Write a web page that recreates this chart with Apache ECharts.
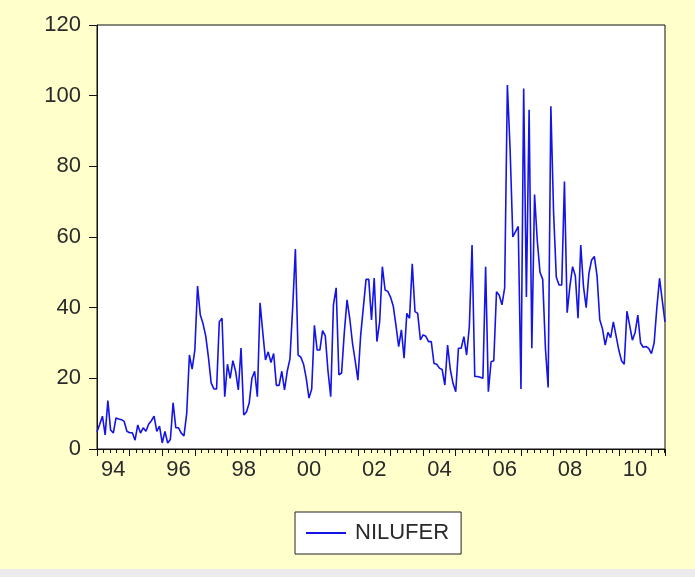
<!DOCTYPE html>
<html>
<head>
<meta charset="utf-8">
<script src="https://cdn.jsdelivr.net/npm/echarts@6/dist/echarts.min.js"></script>
<style>
html,body{margin:0;padding:0;background:#FFFFCC;}
#chart{width:695px;height:577px;}
</style>
</head>
<body>
<div id="chart"></div>
<script>
// Monthly series NILUFER, 1994M01 .. 2011M06
const seriesName = 'NILUFER';
const startYear = 1994;
const values = [
  4.9, 7, 9.3, 4, 13.7, 5.4, 4.5, 8.8, 8.5, 8.3, 7.8, 5,
  4.6, 4.6, 2.5, 6.8, 4.5, 6, 5, 7, 8, 9.3, 5, 6.5,
  1.7, 5, 1.7, 2.7, 13.1, 6, 6, 4.5, 3.7, 10, 26.6, 22.6,
  28, 46.1, 38, 35.5, 32, 26, 18.7, 17, 17, 36, 37, 14.8,
  24, 20, 25, 22, 16.7, 28.6, 9.6, 10.5, 13, 20, 22, 14.8,
  41.4, 33, 25.2, 27.5, 24.5, 27, 18, 18, 22, 16.7, 22, 25.5,
  40, 56.6, 26.6, 26, 24, 20, 14.4, 17, 35, 28, 28, 33.5,
  32, 22, 14.8, 40.8, 45.6, 21, 21.5, 33, 42.2, 37, 30, 25,
  19.5, 32, 40, 48, 48, 36.5, 48.4, 30.4, 36, 51.6, 45, 44.6,
  43, 40.5, 35, 29, 33.7, 25.7, 38.4, 37, 52.4, 38.9, 38.4, 30.9,
  32.3, 31.9, 30.4, 30.4, 24.2, 24, 22.9, 22.5, 18.1, 29.4, 22.5, 18.6,
  16.2, 28.5, 28.5, 31.8, 26.6, 34.6, 57.7, 20.5, 20.5, 20.3, 20, 51.6,
  16.2, 24.7, 25, 44.5, 43.5, 40.8, 45.6, 103, 85, 60, 61.5, 63,
  17, 102, 43, 96, 28.5, 72, 59, 50, 48, 28.5, 17.4, 97,
  67, 48.7, 46.4, 46.4, 75.7, 38.6, 46, 51.6, 49, 37, 57.7, 46,
  40, 49.7, 53.5, 54.5, 49, 36.6, 34, 29.4, 33, 31.5, 36, 32,
  28, 25, 24, 39, 35, 30.8, 33, 37.9, 30, 28.8, 29, 28.5,
  27, 30, 40, 48.3, 42, 36
];
const yMin = 0, yMax = 120, yStep = 20;
const labelYears = [94, 96, 98, 0, 2, 4, 6, 8, 10];

const data = values.map((v, i) => [i, v]);
const lastIdx = values.length - 1;

const chart = echarts.init(document.getElementById('chart'), null, {renderer: 'canvas'});
const font = 'Liberation Sans, Arial, sans-serif';
const lineColor = '#1414e6';

function yearLabel(v) {
  if ((v - 6) % 24 !== 0) return '';
  const yr = startYear + (v - 6) / 12;
  const yy = yr % 100;
  if (labelYears.indexOf(yy) < 0) return '';
  return (yy < 10 ? '0' : '') + yy;
}

chart.setOption({
  backgroundColor: '#FFFFCC',
  animation: false,
  grid: {
    left: 97, right: 30, top: 25, bottom: 128,
    show: true, backgroundColor: '#ffffff',
    borderColor: '#111', borderWidth: 1
  },
  legend: {
    left: 295, top: 512,
    data: [{name: seriesName, icon: 'rect', itemStyle: {color: lineColor}}],
    backgroundColor: '#ffffff',
    borderColor: '#222', borderWidth: 1,
    padding: [10, 12, 10, 11],
    itemWidth: 40, itemHeight: 2,
    textStyle: {fontSize: 22, color: '#2a2a2a', fontFamily: font, padding: [0, 0, 0, 4]}
  },
  xAxis: [
    {
      type: 'value', min: 0, max: lastIdx, interval: 12,
      axisLine: {show: true, lineStyle: {color: '#111', width: 1}},
      axisTick: {show: true, inside: false, length: 7, lineStyle: {color: '#111', width: 1}},
      minorTick: {show: true, splitNumber: 5, length: 4, lineStyle: {color: '#111', width: 1}},
      axisLabel: {show: false},
      splitLine: {show: false}
    },
    {
      type: 'value', min: 0, max: lastIdx, interval: 6,
      position: 'bottom',
      axisLine: {show: false},
      axisTick: {show: false},
      splitLine: {show: false},
      axisLabel: {
        show: true, margin: 10, fontSize: 22, color: '#2a2a2a', fontFamily: font,
        showMinLabel: true, showMaxLabel: true,
        formatter: yearLabel
      }
    }
  ],
  yAxis: {
    type: 'value', min: yMin, max: yMax, interval: yStep,
    axisLine: {show: true, lineStyle: {color: '#111', width: 1}},
    axisTick: {show: true, inside: false, length: 8, lineStyle: {color: '#111', width: 1}},
    splitLine: {show: false},
    axisLabel: {margin: 16, fontSize: 22, color: '#2a2a2a', fontFamily: font}
  },
  graphic: [
    {type: 'rect', left: 0, top: 569, shape: {width: 695, height: 8}, style: {fill: '#ebebeb'}, silent: true}
  ],
  series: [{
    name: seriesName,
    type: 'line',
    xAxisIndex: 0,
    data: data,
    symbol: 'none',
    showSymbol: false,
    lineStyle: {color: lineColor, width: 1.6},
    itemStyle: {color: lineColor}
  }]
});
</script>
</body>
</html>
